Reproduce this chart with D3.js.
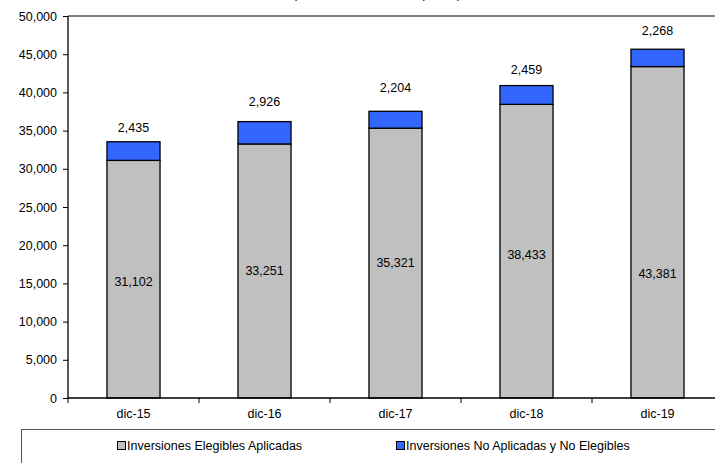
<!DOCTYPE html>
<html><head><meta charset="utf-8">
<script src="https://cdn.jsdelivr.net/npm/d3@7"></script>
<style>body{margin:0;background:#fff}svg{display:block;font-family:"Liberation Sans",Arial,sans-serif}</style>
</head><body><svg id="c" width="715" height="463"></svg>
<script>
const categories = ["dic-15","dic-16","dic-17","dic-18","dic-19"];
const elegibles = [31102, 33251, 35321, 38433, 43381];
const noElegibles = [2435, 2926, 2204, 2459, 2268];
const yTicks = [0,5000,10000,15000,20000,25000,30000,35000,40000,45000,50000];
const seriesNames = ["Inversiones Elegibles Aplicadas","Inversiones No Aplicadas y No Elegibles"];
const colors = ["#C0C0C0","#3366FF"];
// label placement tweaks (pixels), as dragged in the original
const topLift = [14, 20, 24, 16, 19];
const midNudge = [2, 0, 0, 3, 41];

const FS = 12.5;
const svg = d3.select("#c");
const fmt = d3.format(",");
const x = d3.scaleBand().domain(categories).range([68, 723]);
const y = d3.scaleLinear().domain([0, 50000]).range([398, 16]);
const bw = x.bandwidth() * 0.405;

// title (mostly cut off at top, as in the original)
svg.append("text").attr("x", 377).attr("y", -2).attr("text-anchor","middle")
  .attr("font-size", 13).text("(Cifras en millones de pesos)");

// top plot border
svg.append("line").attr("x1", 68).attr("x2", 715).attr("y1", y(50000)).attr("y2", y(50000))
  .attr("stroke", "#808080").attr("stroke-width", 2);

// bars
const g = svg.append("g");
categories.forEach((c, i) => {
  const cx = x(c) + x.bandwidth()/2;
  g.append("rect").attr("x", cx - bw/2).attr("width", bw)
    .attr("y", y(elegibles[i])).attr("height", y(0) - y(elegibles[i]))
    .attr("fill", colors[0]).attr("stroke", "#000").attr("stroke-width", 1.3);
  const tot = elegibles[i] + noElegibles[i];
  g.append("rect").attr("x", cx - bw/2).attr("width", bw)
    .attr("y", y(tot)).attr("height", y(elegibles[i]) - y(tot))
    .attr("fill", colors[1]).attr("stroke", "#000").attr("stroke-width", 1.3);
  g.append("text").attr("x", cx).attr("y", y(tot) - topLift[i]).attr("dy", "0.35em")
    .attr("text-anchor", "middle").attr("font-size", FS).text(fmt(noElegibles[i]));
  g.append("text").attr("x", cx).attr("y", y(elegibles[i]/2) + midNudge[i]).attr("dy", "0.35em")
    .attr("text-anchor", "middle").attr("font-size", FS).text(fmt(elegibles[i]));
});

// y axis
const ya = svg.append("g").attr("transform", "translate(68,0)")
  .call(d3.axisLeft(y).tickValues(yTicks).tickFormat(fmt).tickSize(5).tickPadding(6));
ya.select(".domain").attr("stroke", "#000").attr("stroke-width", 1.3).attr("d", `M0,${y(50000)}V${y(0)}`);
ya.selectAll("line").attr("stroke", "#000");
ya.selectAll("text").attr("font-size", FS).attr("font-family", "Liberation Sans, Arial, sans-serif").attr("fill", "#000");

// x axis
const xa = svg.append("g").attr("transform", `translate(0,${y(0)})`)
  .call(d3.axisBottom(x).tickSize(0).tickPadding(11));
xa.select(".domain").attr("stroke", "#000").attr("stroke-width", 1.3).attr("d", "M68,0H715");
xa.selectAll("text").attr("font-size", FS).attr("font-family", "Liberation Sans, Arial, sans-serif").attr("fill", "#000");
categories.forEach(c => {
  xa.append("line").attr("x1", x(c)).attr("x2", x(c)).attr("y1", 0).attr("y2", 5).attr("stroke", "#000");
});

// legend
svg.append("rect").attr("x", 21.5).attr("y", 429.5).attr("width", 720).attr("height", 60)
  .attr("fill", "none").attr("stroke", "#555").attr("stroke-width", 1);
const leg = [[117, seriesNames[0], colors[0]], [396, seriesNames[1], colors[1]]];
leg.forEach(([lx, name, col]) => {
  svg.append("rect").attr("x", lx + 0.5).attr("y", 441.5).attr("width", 8).attr("height", 8)
    .attr("fill", col).attr("stroke", "#000").attr("stroke-width", 1);
  svg.append("text").attr("x", lx + 10).attr("y", 446).attr("dy", "0.35em")
    .attr("font-size", FS).text(name);
});
</script></body></html>
